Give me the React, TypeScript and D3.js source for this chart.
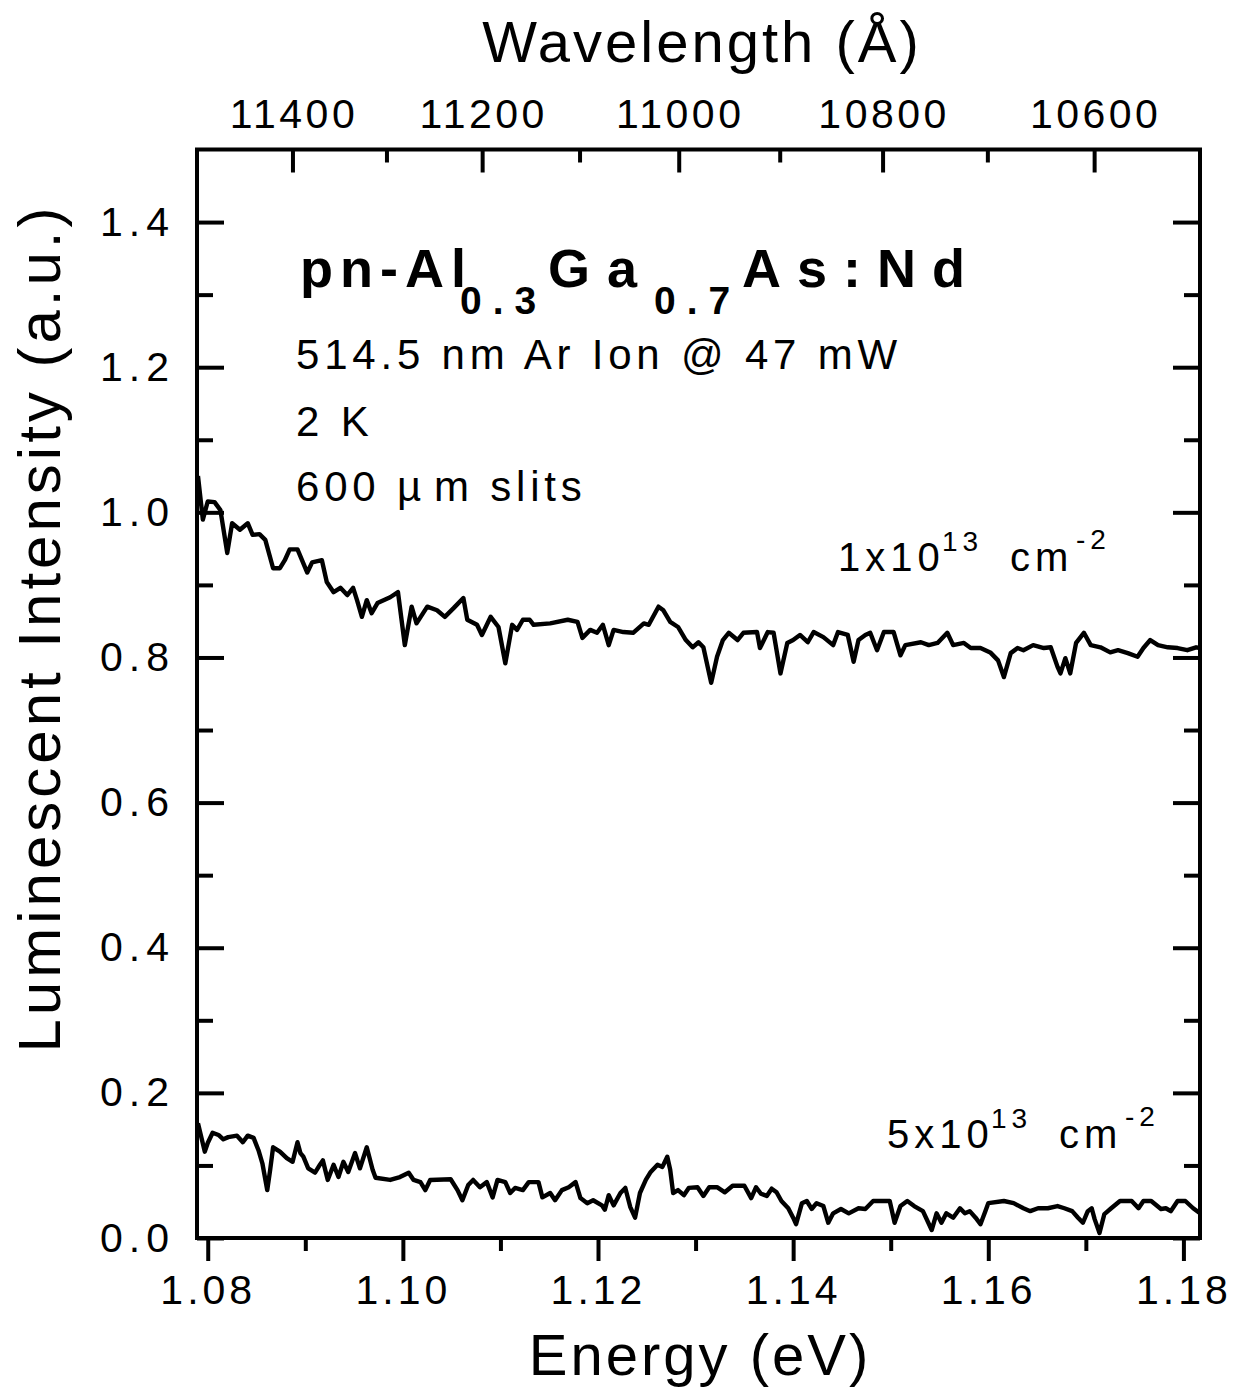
import * as d3 from 'd3'
import { useEffect, useRef } from 'react'

const energyTicks = [1.08, 1.10, 1.12, 1.14, 1.16, 1.18]
const energyMinor = [1.09, 1.11, 1.13, 1.15, 1.17]
const intensityTicks = [0, 0.2, 0.4, 0.6, 0.8, 1.0, 1.2, 1.4]
const intensityMinor = [0.1, 0.3, 0.5, 0.7, 0.9, 1.1, 1.3]
const wavelengthTicks = [11400, 11200, 11000, 10800, 10600]
const wavelengthMinor = [11300, 11100, 10900, 10700]
const HC = 12411 // eV*A factor the original top axis was drawn with

// 1x10^13 cm^-2
const upperE = [
  1.0790, 1.0795, 1.0800, 1.0807, 1.0813, 1.0820, 1.0825, 1.0833, 1.0841, 1.0846,
  1.0853, 1.0859, 1.0867, 1.0874, 1.0879, 1.0884, 1.0892, 1.0902, 1.0907, 1.0917,
  1.0922, 1.0929, 1.0936, 1.0943, 1.0949, 1.0953, 1.0958, 1.0963, 1.0968, 1.0974,
  1.0987, 1.0995, 1.1002, 1.1009, 1.1014, 1.1025, 1.1035, 1.1043, 1.1052, 1.1062,
  1.1066, 1.1076, 1.1081, 1.1090, 1.1098, 1.1105, 1.1112, 1.1117, 1.1123, 1.1130,
  1.1134, 1.1151, 1.1169, 1.1179, 1.1184, 1.1192, 1.1199, 1.1205, 1.1211, 1.1216,
  1.1226, 1.1236, 1.1247, 1.1252, 1.1262, 1.1267, 1.1274, 1.1282, 1.1290, 1.1297,
  1.1303, 1.1308, 1.1316, 1.1322, 1.1328, 1.1334, 1.1343, 1.1349, 1.1363, 1.1366,
  1.1374, 1.1380, 1.1387, 1.1394, 1.1400, 1.1407, 1.1415, 1.1421, 1.1431, 1.1441,
  1.1446, 1.1456, 1.1462, 1.1467, 1.1474, 1.1479, 1.1486, 1.1493, 1.1503, 1.1510,
  1.1515, 1.1531, 1.1539, 1.1548, 1.1558, 1.1564, 1.1575, 1.1582, 1.1592, 1.1602,
  1.1610, 1.1616, 1.1623, 1.1630, 1.1636, 1.1646, 1.1657, 1.1664, 1.1671, 1.1674,
  1.1679, 1.1684, 1.1690, 1.1698, 1.1705, 1.1715, 1.1725, 1.1733, 1.1743, 1.1753,
  1.1759, 1.1766, 1.1774, 1.1784, 1.1794, 1.1804, 1.1813, 1.1817,
]
const upperI = [
  1.050, 0.990, 1.015, 1.014, 1.003, 0.944, 0.985, 0.976, 0.985, 0.969,
  0.970, 0.962, 0.923, 0.923, 0.934, 0.949, 0.949, 0.917, 0.931, 0.934,
  0.904, 0.890, 0.896, 0.886, 0.896, 0.879, 0.856, 0.879, 0.861, 0.875,
  0.883, 0.890, 0.817, 0.870, 0.847, 0.870, 0.865, 0.856, 0.868, 0.882,
  0.852, 0.845, 0.831, 0.856, 0.842, 0.792, 0.845, 0.838, 0.852, 0.852,
  0.845, 0.847, 0.852, 0.849, 0.827, 0.838, 0.834, 0.845, 0.817, 0.838,
  0.835, 0.834, 0.847, 0.845, 0.870, 0.865, 0.849, 0.842, 0.824, 0.814,
  0.821, 0.814, 0.765, 0.801, 0.824, 0.834, 0.824, 0.834, 0.835, 0.813,
  0.835, 0.834, 0.778, 0.820, 0.824, 0.831, 0.821, 0.835, 0.828, 0.817,
  0.835, 0.831, 0.794, 0.824, 0.831, 0.834, 0.810, 0.835, 0.835, 0.803,
  0.817, 0.821, 0.817, 0.820, 0.834, 0.817, 0.820, 0.813, 0.813, 0.807,
  0.796, 0.773, 0.806, 0.813, 0.810, 0.817, 0.813, 0.814, 0.787, 0.778,
  0.799, 0.778, 0.820, 0.834, 0.817, 0.814, 0.807, 0.810, 0.806, 0.801,
  0.813, 0.824, 0.817, 0.814, 0.813, 0.810, 0.814, 0.813,
]

// 5x10^13 cm^-2
const lowerE = [
  1.0790, 1.0797, 1.0800, 1.0805, 1.0811, 1.0816, 1.0821, 1.0830, 1.0836, 1.0841,
  1.0847, 1.0852, 1.0856, 1.0861, 1.0864, 1.0867, 1.0874, 1.0881, 1.0887, 1.0892,
  1.0895, 1.0898, 1.0903, 1.0910, 1.0915, 1.0918, 1.0923, 1.0929, 1.0934, 1.0939,
  1.0944, 1.0951, 1.0956, 1.0963, 1.0969, 1.0972, 1.0987, 1.0997, 1.1006, 1.1011,
  1.1018, 1.1023, 1.1028, 1.1049, 1.1056, 1.1061, 1.1067, 1.1072, 1.1079, 1.1086,
  1.1092, 1.1097, 1.1105, 1.1110, 1.1115, 1.1123, 1.1129, 1.1139, 1.1143, 1.1151,
  1.1156, 1.1163, 1.1170, 1.1177, 1.1182, 1.1189, 1.1195, 1.1204, 1.1207, 1.1211,
  1.1216, 1.1223, 1.1228, 1.1233, 1.1238, 1.1243, 1.1249, 1.1254, 1.1261, 1.1266,
  1.1271, 1.1274, 1.1277, 1.1282, 1.1288, 1.1293, 1.1302, 1.1308, 1.1314, 1.1322,
  1.1330, 1.1338, 1.1350, 1.1357, 1.1362, 1.1367, 1.1373, 1.1378, 1.1383, 1.1388,
  1.1395, 1.1400, 1.1403, 1.1409, 1.1414, 1.1419, 1.1424, 1.1431, 1.1436, 1.1441,
  1.1449, 1.1457, 1.1467, 1.1474, 1.1482, 1.1499, 1.1504, 1.1510, 1.1517, 1.1524,
  1.1533, 1.1542, 1.1547, 1.1552, 1.1557, 1.1564, 1.1571, 1.1576, 1.1581, 1.1587,
  1.1592, 1.1597, 1.1600, 1.1616, 1.1626, 1.1636, 1.1643, 1.1651, 1.1661, 1.1671,
  1.1678, 1.1686, 1.1692, 1.1697, 1.1702, 1.1706, 1.1709, 1.1714, 1.1719, 1.1726,
  1.1735, 1.1747, 1.1754, 1.1759, 1.1767, 1.1777, 1.1782, 1.1787, 1.1794, 1.1802,
  1.1810, 1.1817,
]
const lowerI = [
  0.158, 0.119, 0.131, 0.145, 0.142, 0.136, 0.139, 0.141, 0.132, 0.141,
  0.138, 0.121, 0.103, 0.066, 0.094, 0.125, 0.119, 0.110, 0.105, 0.132,
  0.117, 0.112, 0.096, 0.090, 0.101, 0.107, 0.080, 0.101, 0.084, 0.105,
  0.091, 0.117, 0.096, 0.125, 0.094, 0.083, 0.080, 0.084, 0.090, 0.080,
  0.077, 0.066, 0.080, 0.081, 0.066, 0.052, 0.073, 0.080, 0.070, 0.077,
  0.056, 0.080, 0.077, 0.062, 0.069, 0.066, 0.077, 0.077, 0.056, 0.062,
  0.052, 0.066, 0.070, 0.077, 0.055, 0.048, 0.052, 0.045, 0.039, 0.059,
  0.045, 0.062, 0.069, 0.043, 0.028, 0.062, 0.080, 0.091, 0.101, 0.098,
  0.112, 0.094, 0.062, 0.066, 0.059, 0.069, 0.070, 0.058, 0.070, 0.070,
  0.063, 0.072, 0.072, 0.055, 0.070, 0.061, 0.058, 0.068, 0.063, 0.051,
  0.041, 0.028, 0.019, 0.048, 0.051, 0.040, 0.048, 0.044, 0.021, 0.034,
  0.040, 0.034, 0.041, 0.040, 0.051, 0.051, 0.021, 0.044, 0.051, 0.044,
  0.037, 0.011, 0.034, 0.021, 0.034, 0.028, 0.041, 0.034, 0.037, 0.028,
  0.019, 0.037, 0.048, 0.051, 0.048, 0.041, 0.037, 0.041, 0.041, 0.044,
  0.041, 0.037, 0.028, 0.021, 0.037, 0.041, 0.026, 0.007, 0.033, 0.041,
  0.051, 0.051, 0.041, 0.051, 0.051, 0.040, 0.041, 0.037, 0.051, 0.051,
  0.041, 0.034,
]

const FONT = "'Liberation Sans', Arial, Helvetica, sans-serif"

function drawChart(node: SVGSVGElement) {
  const svg = d3.select(node)
  svg.selectAll('*').remove()

  const x = d3.scaleLinear().domain([1.0789, 1.1817]).range([197, 1200])
  const y = d3.scaleLinear().domain([0, 1.5]).range([1238, 149.5])

  // spectra
  const line = d3.line<[number, number]>().x(d => x(d[0])).y(d => y(d[1]))
  ;[d3.zip(upperE, upperI), d3.zip(lowerE, lowerI)].forEach(pts => {
    svg.append('path')
      .attr('d', line(pts as [number, number][]))
      .attr('fill', 'none').attr('stroke', '#000')
      .attr('stroke-width', 4.4).attr('stroke-linejoin', 'round')
  })

  // axes
  const axis = (a: any, tx: number, ty: number) => {
    const g = svg.append('g').attr('transform', `translate(${tx},${ty})`).call(a)
    g.select('.domain').remove()
    g.selectAll('.tick line').attr('stroke', '#000').attr('stroke-width', 4)
    g.selectAll('text')
      .attr('fill', '#000').attr('font-family', FONT).attr('font-size', 41)
    return g
  }
  const blank = () => ''

  axis(d3.axisBottom(x).tickValues(energyTicks).tickSize(23).tickPadding(14)
    .tickFormat(d3.format('.2f')), 0, y(0))
    .selectAll('text').attr('letter-spacing', 4).attr('dx', 0)
  axis(d3.axisBottom(x).tickValues(energyMinor).tickSize(13).tickFormat(blank), 0, y(0))

  axis(d3.axisTop(x).tickValues(wavelengthTicks.map(l => HC / l)).tickSize(-23).tickPadding(22)
    .tickFormat(e => String(Math.round(HC / (e as number)))), 0, y(1.5))
    .selectAll('text').attr('letter-spacing', 3.5).attr('dx', 1)
  axis(d3.axisTop(x).tickValues(wavelengthMinor.map(l => HC / l)).tickSize(-13).tickFormat(blank), 0, y(1.5))

  axis(d3.axisLeft(y).tickValues(intensityTicks).tickSize(-27).tickPadding(22)
    .tickFormat(d3.format('.1f')), 197, 0)
    .selectAll('text').attr('letter-spacing', 6)
  axis(d3.axisLeft(y).tickValues(intensityMinor).tickSize(-16).tickFormat(blank), 197, 0)
  axis(d3.axisRight(y).tickValues(intensityTicks).tickSize(-27).tickFormat(blank), 1200, 0)
  axis(d3.axisRight(y).tickValues(intensityMinor).tickSize(-16).tickFormat(blank), 1200, 0)

  svg.append('rect')
    .attr('x', 197).attr('y', y(1.5)).attr('width', 1200 - 197).attr('height', y(0) - y(1.5))
    .attr('fill', 'none').attr('stroke', '#000').attr('stroke-width', 4)

  // axis titles
  const title = (t: string, tx: number, ty: number, rot = 0) =>
    svg.append('text').text(t)
      .attr('transform', `translate(${tx},${ty}) rotate(${rot})`)
      .attr('text-anchor', 'middle').attr('font-family', FONT)
      .attr('font-size', 58).attr('letter-spacing', 3).attr('fill', '#000')
  title('Energy (eV)', 700, 1375)
  title('Wavelength (Å)', 702, 62)
  title('Luminescent Intensity (a.u.)', 60, 628, -90).attr('font-size', 60).attr('letter-spacing', 4)

  // sample title with subscripts
  const head = svg.append('text').attr('font-family', FONT).attr('font-weight', 'bold')
    .attr('fill', '#000').attr('font-size', 54)
  const seg = (t: string, sx: number, sy: number, size: number, ls: number) =>
    head.append('tspan').text(t).attr('x', sx).attr('y', sy)
      .attr('font-size', size).attr('letter-spacing', ls)
  seg('pn-Al', 300, 287, 54, 7)
  seg('0.3', 460, 314, 39, 11)
  seg('Ga', 548, 287, 54, 17)
  seg('0.7', 654, 314, 39, 11)
  seg('As:Nd', 742, 287, 54, 16)

  // conditions
  const note = (t: string, ny: number) =>
    svg.append('text').text(t).attr('x', 296).attr('y', ny)
      .attr('font-family', FONT).attr('font-size', 42).attr('letter-spacing', 4.8).attr('fill', '#000')
  note('514.5 nm Ar Ion @ 47 mW', 369)
  note('2 K', 436)
  const slit = note('', 501)
  slit.append('tspan').text('600 µ')
  slit.append('tspan').text('m slits').attr('dx', 8)

  // dose labels
  const dose = (lead: string, lx: number, ly: number) => {
    const t = svg.append('text').attr('font-family', FONT).attr('fill', '#000')
      .attr('font-size', 40).attr('letter-spacing', 5)
    t.append('tspan').text(lead).attr('x', lx).attr('y', ly)
    t.append('tspan').text('13').attr('x', lx + 104).attr('y', ly - 20).attr('font-size', 28)
    t.append('tspan').text('cm').attr('x', lx + 172).attr('y', ly)
    t.append('tspan').text('-2').attr('x', lx + 238).attr('y', ly - 22).attr('font-size', 28)
  }
  dose('1x10', 838, 571)
  dose('5x10', 887, 1148)
}

function App() {
  const ref = useRef<SVGSVGElement>(null)
  useEffect(() => {
    if (ref.current) drawChart(ref.current)
  })

  return (
    <svg ref={ref} width={1246} height={1391}
      style={{ position: 'absolute', left: 0, top: 0, background: '#fff' }}>
    </svg>
  )
}

export default App
